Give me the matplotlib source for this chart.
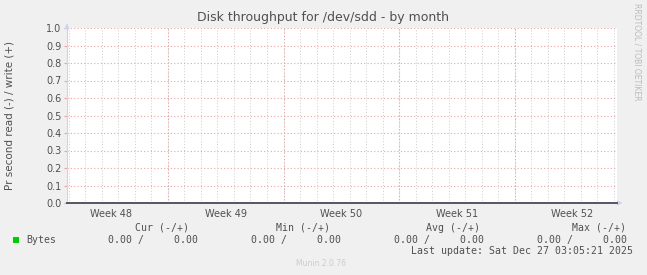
import matplotlib
matplotlib.use('Agg')
import matplotlib.pyplot as plt

# данные (дни относительно начала Week 49)
days = [-6.12, -3.0, 0.0, 7.0, 14.0, 21.0, 27.21]
read_vals = [0.0, 0.0, 0.0, 0.0, 0.0, 0.0, 0.0]
write_vals = [0.0, 0.0, 0.0, 0.0, 0.0, 0.0, 0.0]
week_starts = [0, 7, 14, 21]
week_centers = [-3.45, 3.5, 10.5, 17.5, 24.5]
week_labels = ['Week 48', 'Week 49', 'Week 50', 'Week 51', 'Week 52']
y_ticks = [0.0, 0.1, 0.2, 0.3, 0.4, 0.5, 0.6, 0.7, 0.8, 0.9, 1.0]
stats_head = ['Cur (-/+)', 'Min (-/+)', 'Avg (-/+)', 'Max (-/+)']
stats_vals = ['0.00 /     0.00', '0.00 /     0.00', '0.00 /     0.00', '0.00 /     0.00']

W, H = 647, 275
fig = plt.figure(figsize=(W / 100, H / 100), dpi=100, facecolor='#f0f0f0')
ax = fig.add_axes([67 / W, (H - 203) / H, 550 / W, 175 / H], facecolor='white')

txt = '#505050'
ax.set_xlim(days[0], days[-1])
ax.set_ylim(0, 1.0)

# сетка
ax.set_xticks(range(-6, 28), minor=True)
ax.grid(True, which='minor', axis='x', color='#cccccc', linestyle=(0, (1, 2)), linewidth=0.7)
for d in week_starts:
    ax.axvline(d, color='#eaa5a5', linestyle=(0, (1, 2)), linewidth=0.8)
ax.set_yticks(y_ticks)
ax.grid(True, which='major', axis='y', color='#eaa5a5', linestyle=(0, (1, 2)), linewidth=0.8)

ax.set_xticks(week_centers)
ax.set_xticklabels(week_labels)
ax.set_yticklabels(['%.1f' % v for v in y_ticks])
ax.tick_params(axis='x', which='major', length=0, labelsize=7, labelcolor=txt, pad=4)
ax.tick_params(axis='x', which='minor', length=0)
ax.tick_params(axis='y', length=2, color='#eaa5a5', labelsize=7, labelcolor=txt, pad=2)

# линии данных (нулевые, под осью)
ax.plot(days, read_vals, color='#00cc00', linewidth=1, zorder=1)
ax.plot(days, write_vals, color='#00cc00', linewidth=1, zorder=1)

for s in ['top', 'right']:
    ax.spines[s].set_visible(False)
ax.spines['left'].set_color('#d0d0f4')
ax.spines['bottom'].set_color('#555566')
ax.spines['left'].set_linewidth(0.8)
ax.spines['bottom'].set_linewidth(1.4)
ax.spines['bottom'].set_zorder(5)

# стрелки осей
ax.annotate('', xy=(0, 1.04), xytext=(0, 1.0), xycoords='axes fraction',
            arrowprops=dict(arrowstyle='-|>', color='#d0d0f4', lw=0.8, mutation_scale=7),
            annotation_clip=False)
ax.annotate('', xy=(1.015, 0), xytext=(1.0, 0), xycoords='axes fraction',
            arrowprops=dict(arrowstyle='-|>', color='#d0d0f4', lw=0.8, mutation_scale=7),
            annotation_clip=False)

# заголовки
fig.text(323 / W, 1 - 18 / H, 'Disk throughput for /dev/sdd - by month', ha='center', va='center',
         fontsize=9, color=txt)
fig.text(10 / W, 1 - 115 / H, 'Pr second read (-) / write (+)', rotation=90, ha='center', va='center',
         fontsize=7.5, color=txt)
fig.text(637 / W, 1 - 52 / H, 'RRDTOOL / TOBI OETIKER', rotation=270, ha='center', va='center',
         fontsize=5.5, color='#bbbbbb')

# легенда
mono = 'DejaVu Sans Mono'
fig.patches.append(plt.Rectangle((13 / W, 1 - 243 / H), 6 / W, 6 / H, transform=fig.transFigure,
                                 facecolor='#00cc00', edgecolor='none'))
fig.text(26 / W, 1 - 240 / H, 'Bytes', ha='left', va='center', fontsize=7.1, family=mono, color=txt)
head_right = [189, 330, 480, 626]
val_right = [198, 341, 484, 627]
for h, xr in zip(stats_head, head_right):
    fig.text(xr / W, 1 - 228 / H, h, ha='right', va='center', fontsize=7.1, family=mono, color=txt)
for v, xr in zip(stats_vals, val_right):
    fig.text(xr / W, 1 - 240 / H, v, ha='right', va='center', fontsize=7.1, family=mono, color=txt)
fig.text(633 / W, 1 - 251 / H, 'Last update: Sat Dec 27 03:05:21 2025', ha='right', va='center',
         fontsize=7.1, family=mono, color=txt)
fig.text(321 / W, 1 - 264 / H, 'Munin 2.0.76', ha='center', va='center', fontsize=5.5, color='#cccccc')

fig.savefig('out.png', dpi=100, facecolor=fig.get_facecolor())
